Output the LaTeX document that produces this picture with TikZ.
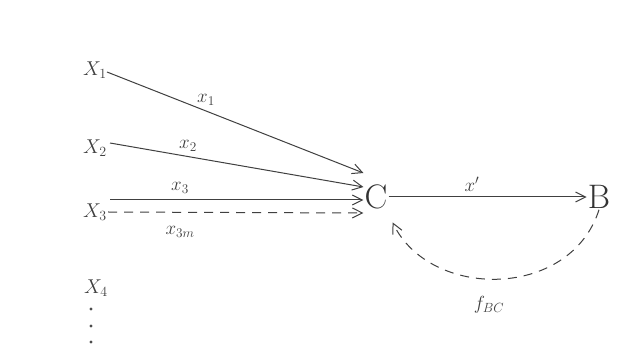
\RequirePackage{fix-cm}
\documentclass[tikz,border=0pt]{standalone}
\usepackage{xcolor}
\usepackage{tikz}
\usetikzlibrary{arrows.meta, positioning}

\begin{document}
\begin{tikzpicture}[
    x=1pt, y=-1pt,
    font=\fontsize{20}{24}\selectfont,
    var/.style={
        inner sep=1pt,
        text=black!75
    },
    bignode/.style={
        inner sep=1pt,
        text=black!80,
        font=\fontsize{34}{38}\selectfont
    },
    flow/.style={
        font=\fontsize{19}{22}\selectfont,
        text=black!75,
        inner sep=1pt
    },
    arrow/.style={
        -{Straight Barb[length=10pt, width=10pt, line width=1pt]},
        line width=1pt,
        draw=black!75
    },
    dasharrow/.style={
        arrow,
        dash pattern=on 9pt off 7pt
    }
]

\useasboundingbox[fill=white] (0,0) rectangle (635,347);

% inputs
\node[var] (x1) at (95,70) {$X_1$};
\node[var] (x2) at (95,148) {$X_2$};
\node[var] (x3) at (95,212) {$X_3$};
\node[var] (x4) at (96,288) {$X_4$};
\fill[black!70] (91,309) circle (1.6) (91,326) circle (1.6) (91,342) circle (1.6);

% C and B
\node[bignode] (C) at (376,197) {C};
\node[bignode] (B) at (599,197) {B};

% arrows into C
\draw[arrow] (107,72) -- ([yshift=24pt]C.west) coordinate (e1);
\draw[arrow] (110,143) -- ([yshift=10pt]C.west) coordinate (e2);
\draw[arrow] (110,200) -- ([yshift=-3pt]C.west) coordinate (e3);
\draw[dasharrow] (x3.east) -- ([yshift=-16pt]C.west) coordinate (e4);

\node[flow] (l1) at (206,100) {$x_1$};
\node[flow] (l2) at (188,146) {$x_2$};
\node[flow] (l3) at (180,188) {$x_3$};
\node[flow] (l4) at (180,232) {$x_{3m}$};

% C to B
\draw[arrow] (C.east) -- (B.west);
\node[flow] (lcb) at (472,184) {$x'$};

% feedback
\draw[dasharrow] (B.south) .. controls (570,300) and (430,300) .. ([xshift=4pt,yshift=-12pt]C.south east);
\node[flow] (lfb) at (489,305) {$f_{BC}$};

\end{tikzpicture}
\end{document}
